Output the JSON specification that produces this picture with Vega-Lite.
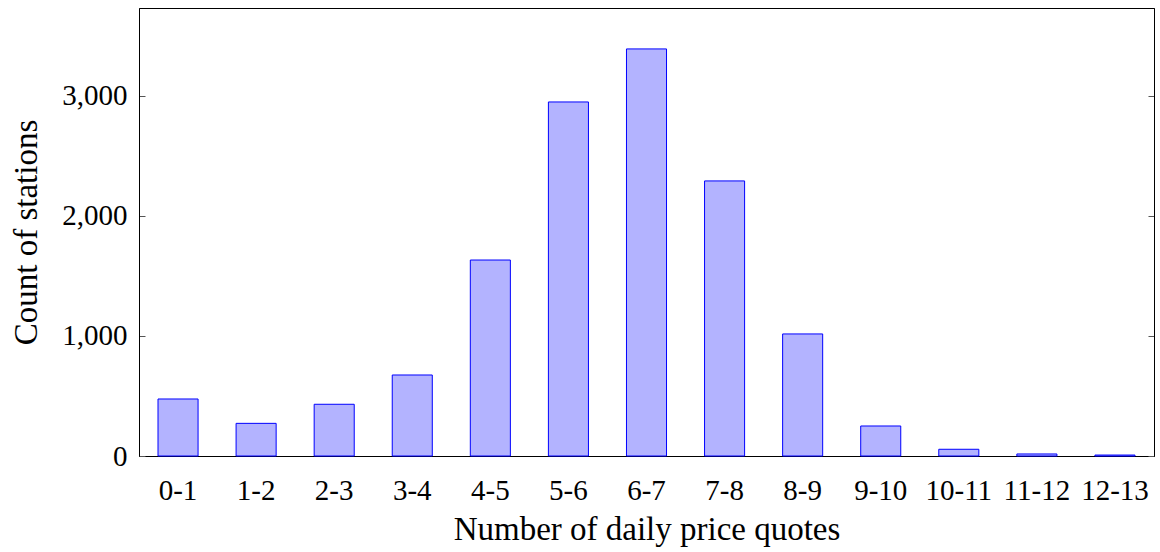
{
  "$schema": "https://vega.github.io/schema/vega-lite/v6.json",
  "autosize": {"type": "none"},
  "padding": {"left": 139, "top": 8, "right": 6, "bottom": 96},
  "width": 1015,
  "height": 448,
  "config": {
    "view": {"stroke": "black", "strokeWidth": 1},
    "font": "Liberation Serif",
    "axis": {
      "labelFont": "Liberation Serif",
      "titleFont": "Liberation Serif",
      "labelFontSize": 29,
      "titleFontSize": 33,
      "titleFontWeight": "normal",
      "labelColor": "black",
      "titleColor": "black",
      "domainColor": "black",
      "tickColor": "#555555",
      "grid": false
    }
  },
  "data": {
    "values": [
      {"bin": "0-1", "count": 475},
      {"bin": "1-2", "count": 272},
      {"bin": "2-3", "count": 431},
      {"bin": "3-4", "count": 675},
      {"bin": "4-5", "count": 1633},
      {"bin": "5-6", "count": 2950},
      {"bin": "6-7", "count": 3392},
      {"bin": "7-8", "count": 2292},
      {"bin": "8-9", "count": 1017},
      {"bin": "9-10", "count": 250},
      {"bin": "10-11", "count": 56},
      {"bin": "11-12", "count": 17},
      {"bin": "12-13", "count": 8}
    ]
  },
  "layer": [
    {
      "mark": {"type": "bar", "fill": "#b3b3ff", "stroke": "#0000ff", "strokeWidth": 1},
      "encoding": {
        "x": {
          "field": "bin", "type": "nominal", "sort": null,
          "scale": {"paddingInner": 0.487, "paddingOuter": 0.2435},
          "axis": {"title": "Number of daily price quotes", "labelAngle": 0, "ticks": false, "labelPadding": 20, "titlePadding": 8}
        },
        "y": {
          "field": "count", "type": "quantitative",
          "scale": {"domain": [0, 3733], "nice": false},
          "axis": {"title": "Count of stations", "values": [0, 1000, 2000, 3000], "format": ",d", "tickSize": -6, "labelPadding": 18, "titlePadding": 18, "domain": true}
        }
      }
    },
    {
      "mark": {"type": "bar", "opacity": 0},
      "encoding": {
        "x": {"field": "bin", "type": "nominal", "sort": null},
        "y": {
          "field": "count", "type": "quantitative",
          "scale": {"domain": [0, 3733], "nice": false},
          "axis": {"orient": "right", "title": null, "labels": false, "values": [0, 1000, 2000, 3000], "tickSize": -6, "domain": true}
        }
      }
    }
  ],
  "resolve": {"axis": {"y": "independent"}}
}
